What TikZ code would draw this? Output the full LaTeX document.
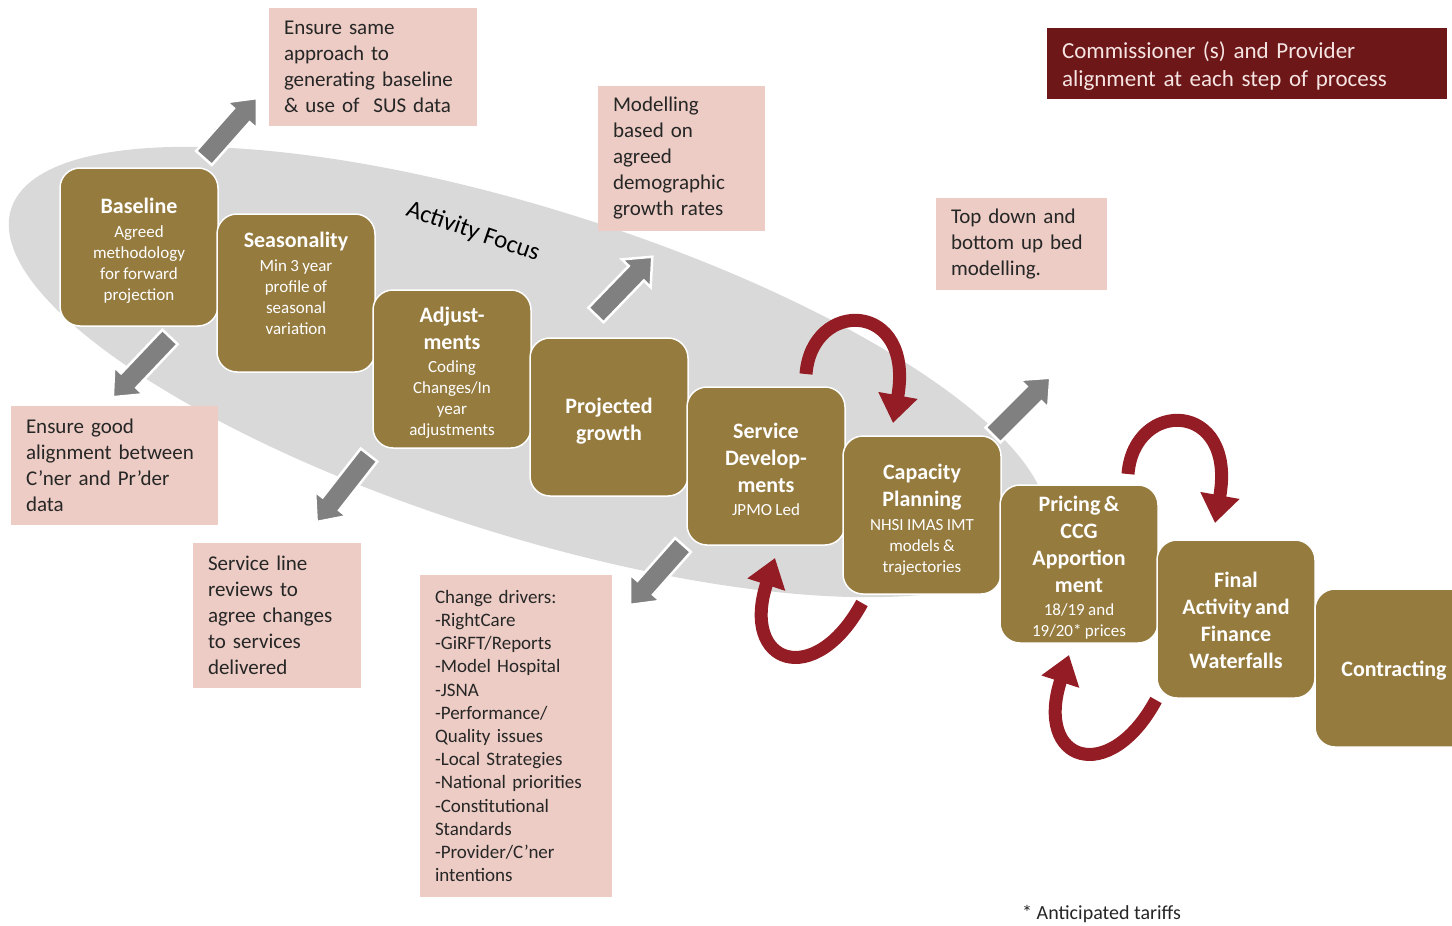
\documentclass[tikz,border=0pt]{standalone}
\usepackage{fontspec}
\setmainfont{Carlito}
\usetikzlibrary{arrows.meta}

\definecolor{stepbrown}{RGB}{150,123,63}
\definecolor{notepink}{RGB}{236,204,196}
\definecolor{notetext}{RGB}{38,38,38}
\definecolor{boxred}{RGB}{109,23,24}
\definecolor{boxredtext}{RGB}{245,228,226}
\definecolor{focusgray}{RGB}{217,217,217}
\definecolor{arrowgray}{RGB}{128,128,128}
\definecolor{cyclered}{RGB}{148,28,36}

% title and detail lines inside the process steps
\newcommand\bxt[1]{{\fontsize{22}{27}\selectfont\bfseries #1\par}}
\newcommand\bxs[1]{\vskip2.5pt{\fontsize{17}{21}\selectfont #1\par}}

% grey block arrow: start point, angle, length
\newcommand\garrow[3]{%
  \begin{scope}[shift={#1},rotate=#2]
    \filldraw[grayblock] (0,-10.5) -- ({#3-23},-10.5) -- ({#3-23},-20) -- (#3,0)
      -- ({#3-23},20) -- ({#3-23},10.5) -- (0,10.5) -- cycle;
  \end{scope}}

\tikzset{
  stagebox/.style={draw=white, line width=1.5pt, fill=stepbrown, rounded corners=20pt,
    minimum width=158pt, minimum height=158pt, inner sep=0pt},
  stagetext/.style={text=white, align=center, text width=152pt, inner sep=0pt},
  notebox/.style={fill=notepink, text=notetext, align=left, inner xsep=15pt, inner ysep=0pt,
    font=\fontsize{21}{26}\selectfont},
  grayblock/.style={fill=arrowgray, draw=white, line width=2.5pt, line join=miter},
  cyclearrow/.style={draw=cyclered, line width=13pt, line cap=butt,
    -{Triangle[width=38pt,length=28pt]}},
}

\begin{document}
\begin{tikzpicture}[x=1pt,y=-1pt]
\useasboundingbox (0,0) rectangle (1452,926);
\clip (0,0) rectangle (1452,926);

% activity focus band
\fill[focusgray, rotate around={-17.5:(528,372)}] (528,372) ellipse [x radius=542pt, y radius=163pt];
\node[rotate=-19, font=\fontsize{25}{30}\selectfont, text=black] (focus) at (473,232) {Activity Focus};

% notes
\node[notebox, text width=178pt, minimum height=118pt] (nsame) at (373,67)
  {Ensure same\\approach to\\generating baseline\\\& use of~ SUS data};
\node[notebox, text width=137pt, minimum height=145pt] (nmodel) at (681.5,158.5)
  {Modelling\\based on\\agreed\\demographic\\growth rates};
\node[notebox, text width=141pt, minimum height=92pt] (nbed) at (1021.5,244)
  {Top down and\\bottom up bed\\modelling.};
\node[notebox, text width=177pt, minimum height=119pt] (ngood) at (114.5,465.5)
  {Ensure good\\alignment between\\C’ner and Pr’der\\data};
\node[notebox, text width=138pt, minimum height=145pt] (nline) at (277,615.5)
  {Service line\\reviews to\\agree changes\\to services\\delivered};
\node[notebox, text width=162pt, minimum height=322pt, font=\fontsize{19}{23.2}\selectfont] (ndrivers) at (516,736)
  {Change drivers:\\-RightCare\\-GiRFT/Reports\\-Model Hospital\\-JSNA\\-Performance/\\Quality issues\\-Local Strategies\\-National priorities\\-Constitutional\\Standards\\-Provider/C’ner\\intentions};
\node[fill=boxred, minimum width=400pt, minimum height=71pt, inner sep=0pt] (ncomm) at (1247,63.5) {};
\node[text=boxredtext, align=left, inner sep=0pt, text width=370pt,
  font=\fontsize{23}{28}\selectfont] (ncommtext) at (1247,66.5)
  {Commissioner (s) and Provider\\alignment at each step of process};
\node[anchor=west, text=notetext, font=\fontsize{20}{24}\selectfont, inner sep=0pt] (ntariff) at (1022,914)
  {* Anticipated tariffs};

% process steps
\node[stagebox] (s1) at (139,247) {};
\node[stagebox] (s2) at (296,293) {};
\node[stagebox] (s3) at (452,369) {};
\node[stagebox] (s4) at (609,417) {};
\node[stagebox] (s5) at (766,466) {};
\node[stagebox] (s6) at (922,515) {};
\node[stagebox] (s7) at (1079,564) {};
\node[stagebox] (s8) at (1236,619) {};
\node[stagebox] (s9) at (1394,668) {};

\node[stagetext] (t1) at (139,250.5) {\bxt{Baseline}\bxs{Agreed\\methodology\\for forward\\projection}};
\node[stagetext] (t2) at (296,283.5) {\bxt{Seasonality}\bxs{Min 3 year\\profile of\\seasonal\\variation}};
\node[stagetext] (t3) at (452,372.5) {\bxt{Adjust-\\ments}\bxs{Coding\\Changes/In\\year\\adjustments}};
\node[stagetext] (t4) at (609,421) {\bxt{Projected\\growth}};
\node[stagetext] (t5) at (766,469.5) {\bxt{Service\\Develop-\\ments}\bxs{JPMO Led}};
\node[stagetext] (t6) at (922,519.5) {\bxt{Capacity\\Planning}\bxs{NHSI IMAS IMT\\models \&\\trajectories}};
\node[stagetext] (t7) at (1079,567.5) {\bxt{Pricing \&\\CCG\\Apportion\\ment}\bxs{18/19 and\\19/20* prices}};
\node[stagetext] (t8) at (1236,620) {\bxt{Final\\Activity and\\Finance\\Waterfalls}};
\node[stagetext] (t9) at (1394,671) {\bxt{Contracting}};

% grey block arrows out to the notes
\garrow{(204,158)}{48.5}{80}
\garrow{(170,337)}{226.5}{83}
\garrow{(369,455)}{232}{85}
\garrow{(596,315)}{46}{81}
\garrow{(683,545)}{228.5}{80}
\garrow{(993,435)}{45}{81}

% feedback loops between neighbouring steps
\coordinate (c1a) at (806,374);
\coordinate (c1b) at (893,423);
\coordinate (c2a) at (862,603);
\coordinate (c2b) at (775,558);
\draw[cyclearrow] (c1a) .. controls (812,298) and (915,300) .. (c1b);
\draw[cyclearrow] (c2a) .. controls (815,690) and (740,665) .. (c2b);
\begin{scope}[shift={(322,100)}]
  \coordinate (c3a) at (806,374);
  \coordinate (c3b) at (893,423);
  \draw[cyclearrow] (c3a) .. controls (812,298) and (915,300) .. (c3b);
\end{scope}
\begin{scope}[shift={(294,97)}]
  \coordinate (c4a) at (862,603);
  \coordinate (c4b) at (775,558);
  \draw[cyclearrow] (c4a) .. controls (815,690) and (740,665) .. (c4b);
\end{scope}
\end{tikzpicture}
\end{document}
